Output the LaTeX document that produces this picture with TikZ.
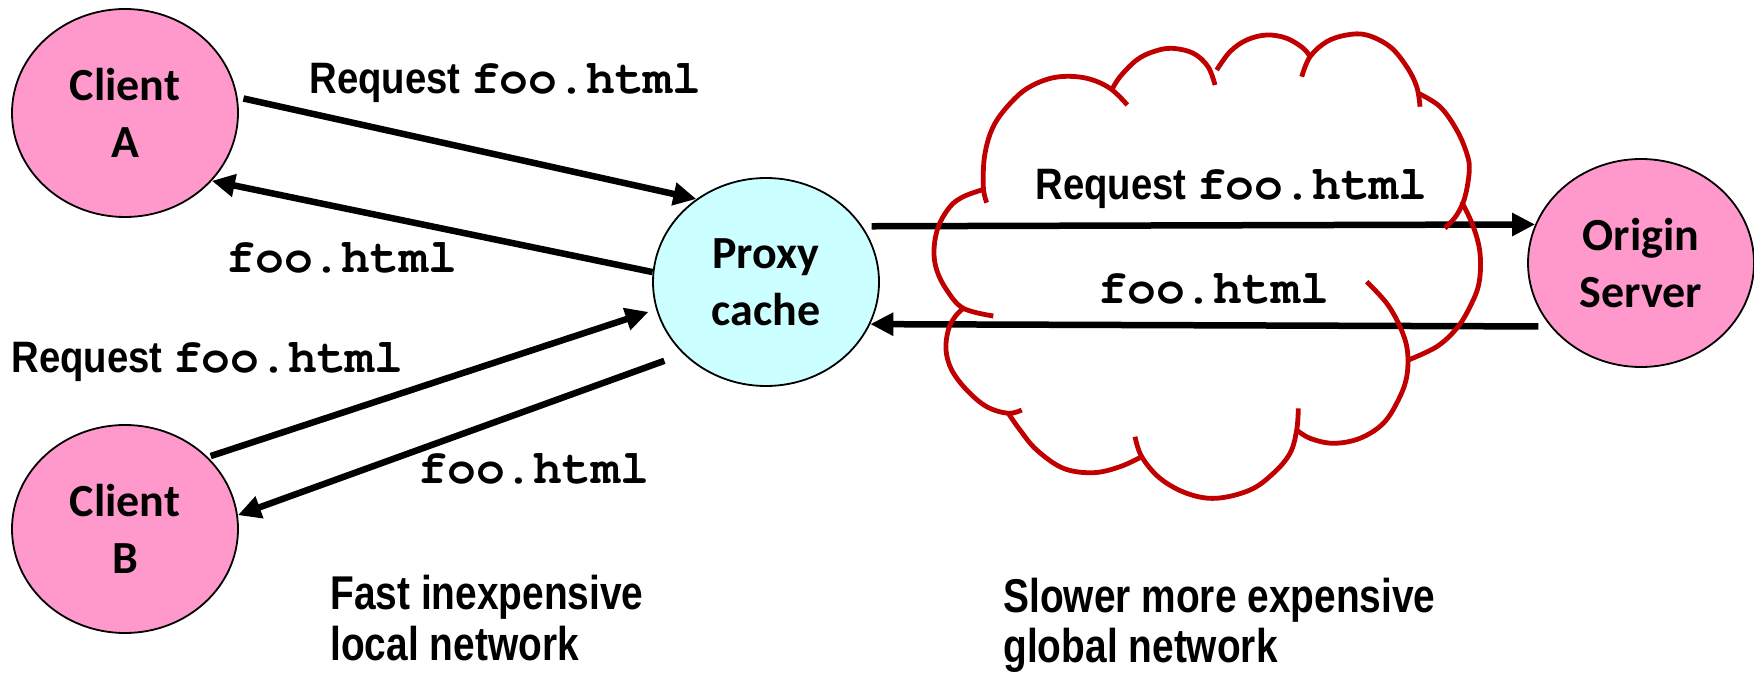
\documentclass[tikz,border=0pt]{standalone}
\usepackage{fontspec}
\setmainfont{Liberation Sans}
\setmonofont{TeX Gyre Cursor}
\newfontfamily\calib{Carlito}
\newfontfamily\reqfont[FakeStretch=0.87]{Liberation Sans}
\newfontfamily\netfont[FakeStretch=0.82]{Liberation Sans}
\usetikzlibrary{shapes.geometric,arrows.meta}
\definecolor{pinkc}{HTML}{FF99CC}
\definecolor{cyanc}{HTML}{CCFFFF}
\definecolor{cloudred}{HTML}{C00000}
\newcommand\foohtml{{\fontsize{24pt}{28pt}\selectfont\ttfamily\bfseries foo.html}}
\tikzset{
  ell/.style={ellipse, draw=black, line width=0.9pt, minimum width=113pt, minimum height=104pt,
    inner sep=0pt, align=center, font=\fontsize{23pt}{28.4pt}\calib\bfseries\selectfont},
  client/.style={ell, fill=pinkc},
  proxy/.style={ell, fill=cyanc},
  arr/.style={line width=3.25pt, -{Triangle[length=11.5pt,width=11pt]}},
  cloudline/.style={draw=cloudred, line width=2.4pt, line cap=butt},
  req/.style={anchor=base west, inner sep=0pt, font=\fontsize{22pt}{26pt}\reqfont\bfseries\selectfont},
  foo/.style={anchor=base west, inner sep=0pt},
  net/.style={anchor=base west, inner sep=0pt, font=\fontsize{23.7pt}{25.5pt}\netfont\bfseries\selectfont},
}
\begin{document}
\begin{tikzpicture}[x=0.5pt,y=-0.5pt]
\useasboundingbox (0,0) rectangle (1754,678);

% nodes
\node[client] (A) at (125,113) {Client\\A};
\node[client] (B) at (125,529) {Client\\B};
\node[proxy]  (P) at (766,282) {Proxy\\cache};
\node[client] (O) at (1641,263) {Origin\\Server};

% connectors
\draw[arr, shorten <=3pt] (A.8) -- (P.130);
\draw[arr] (P.175.5) -- (A.-38);
\draw[arr, shorten <=1.5pt, shorten >=4pt] (B.41.7) -- (P.194.5);
\draw[arr, shorten <=10pt] (P.221.5) -- (B.7);
\draw[arr, shorten <=4.5pt] (P.30.6) -- (O.160.4);
\draw[arr, shorten <=6pt] (O.215.5) -- (P.-22.2);

% cloud
\begin{scope}[smooth, tension=0.6]
\draw[cloudline] plot coordinates {(986.7,202.7) (983.3,186.7) (985,153.3) (995,123.3) (1016.7,96.7) (1036.7,83.3) (1060,76.7) (1086.7,78.3) (1110,88.3) (1127.3,105)};
\draw[cloudline] plot coordinates {(1111.7,90) (1120,76.7) (1136.7,60) (1153.3,51.7) (1171.7,48.3) (1193.3,53.3) (1208,66.7) (1215,85)};
\draw[cloudline] plot coordinates {(1216.7,70) (1230,51.7) (1246.7,40) (1266.7,35) (1286.7,38.3) (1303.3,48.3) (1310,56.7)};
\draw[cloudline] plot coordinates {(1301.7,76.7) (1310,56.7) (1326.7,41.7) (1346.7,35) (1366.7,35) (1390,46.7) (1406.7,66.7) (1416.7,86.7) (1420,106.7)};
\draw[cloudline] plot coordinates {(1418.3,93.3) (1440,106.7) (1456.7,130) (1466.7,153.3) (1469.3,170) (1465,196.7) (1456.7,215) (1445,228.3)};
\draw[cloudline] plot coordinates {(1461.7,201.7) (1473.3,226.7) (1480,253.3) (1479,283) (1470,306.7) (1456.7,328.3) (1436.7,346.7) (1408.3,360)};
\draw[cloudline] plot coordinates {(1366.7,281.7) (1386.7,303.3) (1400,326.7) (1407.3,350) (1406.7,376.7) (1398.3,400) (1383.3,423.3) (1360,438.3) (1333.3,443.3) (1310,438.3) (1296.7,430)};
\draw[cloudline] plot coordinates {(1298.3,408.3) (1296.7,430) (1290,453.3) (1273.3,473.3) (1250,490) (1216,498.3) (1186.7,493.3) (1160,478.3) (1141.7,456.7) (1135,436.7)};
\draw[cloudline] plot coordinates {(1008.3,413.3) (1020,430) (1036.7,450) (1063.3,468.3) (1093.3,472.7) (1120,466.7) (1141.7,456.7)};
\draw[cloudline] plot coordinates {(963.3,308.3) (955,316.7) (948.3,330) (946,350) (951.7,370) (966.7,390) (986.7,406.7) (1008.3,413.3) (1021.7,410)};
\draw[cloudline] plot coordinates {(981.7,190) (963.3,196.7) (950,206.7) (938.3,226.7) (934,250) (936.7,270) (946.7,290) (963.3,308.3) (993.3,316)};
\end{scope}

% labels
\node[req] (lReqA) at (309,94) {Request \foohtml};
\node[foo] (lFooA) at (226,273) {\foohtml};
\node[req] (lReqB) at (11,372) {Request \foohtml};
\node[foo] (lFooB) at (418,483) {\foohtml};
\node[req] (lReqO) at (1035,200) {Request \foohtml};
\node[foo] (lFooO) at (1098,304) {\foohtml};

\node[net] (fast1) at (330,609) {Fast inexpensive};
\node[net] (fast2) at (330,660) {local network};
\node[net] (slow1) at (1003,612) {Slower more expensive};
\node[net] (slow2) at (1003,662) {global network};
\end{tikzpicture}
\end{document}
